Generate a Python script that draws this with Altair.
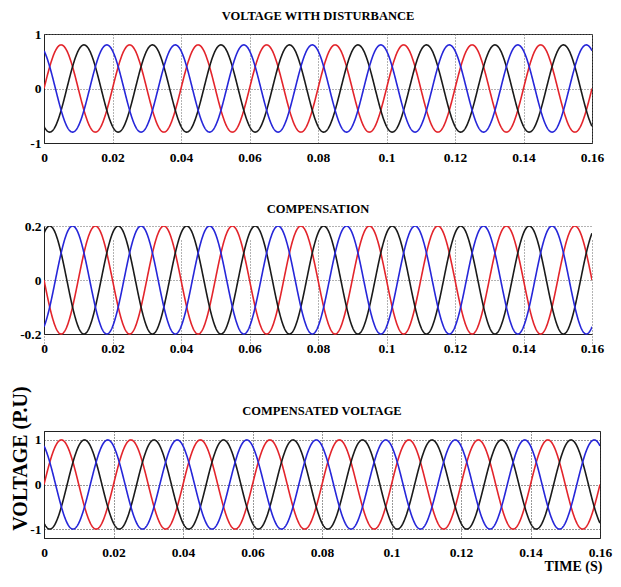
import numpy as np
import pandas as pd
import altair as alt

# ---- values ----
freq_hz = 50                      # one cycle every 0.02 s
t_end = 0.16
phase_names = ["a", "b", "c"]
phase_colors = ["#e3242b", "#1a1a1a", "#2626d9"]   # red, black, blue
phase_shift_deg = [0, -120, 120]

panel_titles = ["VOLTAGE WITH DISTURBANCE", "COMPENSATION", "COMPENSATED VOLTAGE"]
panel_amp = [0.8, 0.2, 1.0]            # peak value of each phase (p.u.)
panel_offset_deg = [0, 180, 0]         # compensation drawn in antiphase
panel_ydomain = [[-1, 1], [-0.2, 0.2], [-1.2, 1.2]]
panel_yticks = [[-1, 0, 1], [-0.2, 0, 0.2], [-1, 0, 1]]
x_ticks = [0, 0.02, 0.04, 0.06, 0.08, 0.1, 0.12, 0.14, 0.16]

FONT = "Liberation Serif"
t = np.linspace(0, t_end, 1601)


def wave_frame(amp, off):
    parts = []
    for name, sh in zip(phase_names, phase_shift_deg):
        v = amp * np.sin(2 * np.pi * freq_hz * t + np.deg2rad(sh + off))
        parts.append(pd.DataFrame({"t": t, "v": v, "phase": name}))
    return pd.concat(parts, ignore_index=True)


YLAB = "datum.value < 0 ? '-' + format(-datum.value, '~g') : format(datum.value, '~g')"


def panel(i, width, height, title_offset, yrange=None, x_offset=0,
          framed=True, ytitle=None, xtitle=None, grid_color="#666"):
    df = wave_frame(panel_amp[i], panel_offset_deg[i])
    xaxis_kw = dict(
        values=x_ticks, format="~g", labelFlush=False, ticks=False,
        domain=True, domainColor="#222", grid=True, gridDash=[1, 2],
        gridColor=grid_color, labelFont=FONT, labelFontSize=13.5,
        labelFontWeight="bold", labelColor="black", labelPadding=7,
        offset=x_offset, title=None,
    )
    if xtitle:
        xaxis_kw.update(title=xtitle, titleFont=FONT, titleFontSize=14,
                        titleFontWeight="bold", titleColor="black",
                        titleX=width - 27, titleY=32, titleAlign="center",
                        titleBaseline="alphabetic")
    yaxis_kw = dict(
        values=panel_yticks[i], labelExpr=YLAB, ticks=False, domain=True,
        domainColor="#222", grid=True, gridDash=[1, 2], gridColor=grid_color,
        labelFont=FONT, labelFontSize=13.5, labelFontWeight="bold",
        labelColor="black", labelPadding=3, title=None,
    )
    if ytitle:
        yaxis_kw.update(title=ytitle, titleFont=FONT, titleFontSize=20,
                        titleFontWeight="bold", titleColor="black",
                        titleAngle=270, titleX=-18, titleY=27,
                        titleAlign="center", titleBaseline="alphabetic")
    yscale_kw = dict(domain=panel_ydomain[i], nice=False, zero=False)
    if yrange is not None:
        yscale_kw["range"] = yrange
    ch = alt.Chart(df).mark_line(strokeWidth=1.6, clip=True).encode(
        x=alt.X("t:Q", scale=alt.Scale(domain=[0, t_end], nice=False, zero=False),
                axis=alt.Axis(**xaxis_kw)),
        y=alt.Y("v:Q", scale=alt.Scale(**yscale_kw), axis=alt.Axis(**yaxis_kw)),
        color=alt.Color("phase:N", scale=alt.Scale(domain=phase_names, range=phase_colors),
                        legend=None),
        detail="phase:N",
    ).properties(
        width=width, height=height,
        title=alt.TitleParams(panel_titles[i], font=FONT, fontSize=12.5,
                              fontWeight="bold", color="black", anchor="middle",
                              baseline="alphabetic", offset=title_offset),
    )
    if framed:
        ch = ch.properties(view=alt.ViewBackground(stroke="#222", strokeWidth=1))
    else:
        ch = ch.properties(view=alt.ViewBackground(strokeOpacity=0))
    return ch


p1 = panel(0, 548, 109, -5)
p2 = panel(1, 548, 122, -6, yrange=[108, 0], x_offset=-14, framed=False)
p3 = panel(2, 556, 107, -42, ytitle="VOLTAGE (P.U)", xtitle="TIME (S)", grid_color="#333")

chart = alt.vconcat(p1, p2, p3, spacing=83, bounds="flush").properties(
    padding={"left": 1, "top": 1, "right": 0, "bottom": 0}
).configure(background="white")

chart.save("out.html", embed_options={"renderer": "svg", "actions": False})
